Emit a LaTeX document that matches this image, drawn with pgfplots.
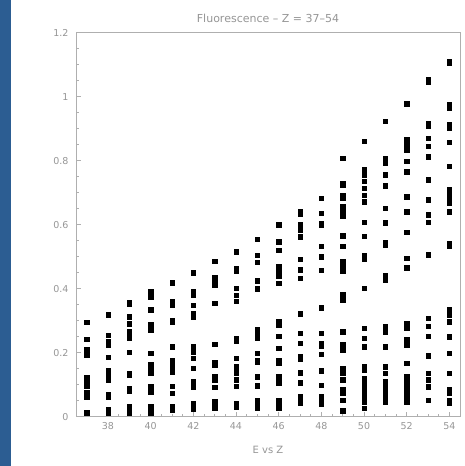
\documentclass[border=0pt]{standalone}
\usepackage{pgfplots}
\pgfplotsset{compat=1.18}
\usepackage{fontspec}
\setmainfont{DejaVu Sans}
\definecolor{bandblue}{RGB}{44,93,146}
\definecolor{axgray}{RGB}{175,175,175}
\definecolor{txtgray}{RGB}{150,150,150}
\begin{document}
\begin{tikzpicture}
\path[use as bounding box] (0,0) rectangle (464pt,466pt);
\fill[white] (0,0) rectangle (464pt,466pt);
\fill[bandblue] (0,0) rectangle (11pt,466pt);
\begin{axis}[
  at={(76pt,49.3pt)}, anchor=south west,
  scale only axis, width=384pt, height=384pt,
  xmin=36.5, xmax=54.5, ymin=0, ymax=1.2,
  xtick={38,40,...,54}, ytick={0,0.2,...,1.2},
  yticklabels={0,0.2,0.4,0.6,0.8,1,1.2},
  minor x tick num=3, minor y tick num=3,
  axis line style={axgray, line width=0.6pt},
  every tick/.style={axgray, line width=0.6pt},
  major tick length=5pt, minor tick length=3pt,
  tick align=inside,
  xtick pos=bottom, ytick pos=left,
  /pgf/number format/assume math mode=true,
  tick label style={font=\fontsize{9.5}{10}\selectfont, text=txtgray},
  yticklabel style={xshift=-4pt},
  xticklabel style={yshift=-2pt},
  title={Fluorescence -- Z = 37--54},
  title style={font=\fontsize{11}{12}\selectfont, text=txtgray, at={(0.5,1)}, anchor=base, yshift=4pt},
  xlabel={E vs Z},
  xlabel style={font=\fontsize{10}{12}\selectfont, text=txtgray, at={(0.5,0)}, anchor=base, yshift=-37pt},
  clip=false,
]
\addplot[only marks, mark=square*, mark size=2.2pt, black] table {
x y
37 0.295
37 0.242
37 0.209
37 0.200
37 0.193
37 0.123
37 0.115
37 0.104
37 0.096
37 0.075
37 0.063
37 0.014
37 0.012
38 0.321
38 0.318
38 0.255
38 0.235
38 0.224
38 0.186
38 0.146
38 0.134
38 0.123
38 0.115
38 0.071
38 0.063
38 0.023
38 0.011
39 0.357
39 0.353
39 0.313
39 0.290
39 0.266
39 0.256
39 0.245
39 0.201
39 0.136
39 0.130
39 0.089
39 0.081
39 0.033
39 0.026
39 0.016
39 0.011
40 0.391
40 0.375
40 0.336
40 0.334
40 0.287
40 0.271
40 0.198
40 0.162
40 0.146
40 0.138
40 0.094
40 0.078
40 0.031
40 0.021
40 0.011
41 0.419
41 0.360
41 0.349
41 0.301
41 0.297
41 0.219
41 0.177
41 0.165
41 0.151
41 0.141
41 0.096
41 0.073
41 0.031
41 0.025
41 0.021
42 0.450
42 0.391
42 0.381
42 0.349
42 0.323
42 0.313
42 0.219
42 0.203
42 0.183
42 0.151
42 0.110
42 0.094
42 0.042
42 0.031
42 0.023
43 0.485
43 0.435
43 0.422
43 0.412
43 0.355
43 0.227
43 0.169
43 0.162
43 0.125
43 0.115
43 0.092
43 0.047
43 0.037
43 0.026
44 0.516
44 0.464
44 0.454
44 0.402
44 0.379
44 0.360
44 0.245
44 0.238
44 0.183
44 0.156
44 0.138
44 0.115
44 0.096
44 0.042
44 0.029
45 0.555
45 0.505
45 0.482
45 0.425
45 0.400
45 0.273
45 0.261
45 0.245
45 0.198
45 0.177
45 0.170
45 0.125
45 0.097
45 0.052
45 0.042
45 0.026
46 0.600
46 0.547
46 0.521
46 0.469
46 0.455
46 0.441
46 0.417
46 0.297
46 0.287
46 0.252
46 0.214
46 0.177
46 0.167
46 0.125
46 0.106
46 0.052
46 0.040
46 0.026
47 0.643
47 0.633
47 0.600
47 0.584
47 0.563
47 0.492
47 0.459
47 0.433
47 0.322
47 0.261
47 0.230
47 0.188
47 0.180
47 0.138
47 0.106
47 0.063
47 0.052
47 0.042
48 0.683
48 0.636
48 0.605
48 0.598
48 0.532
48 0.500
48 0.457
48 0.340
48 0.261
48 0.230
48 0.221
48 0.196
48 0.144
48 0.099
48 0.063
48 0.052
48 0.040
49 0.808
49 0.730
49 0.725
49 0.693
49 0.683
49 0.657
49 0.647
49 0.628
49 0.566
49 0.533
49 0.485
49 0.469
49 0.454
49 0.381
49 0.365
49 0.266
49 0.227
49 0.209
49 0.151
49 0.136
49 0.115
49 0.084
49 0.073
49 0.052
49 0.019
50 0.860
50 0.772
50 0.756
50 0.735
50 0.714
50 0.693
50 0.672
50 0.608
50 0.564
50 0.505
50 0.493
50 0.402
50 0.276
50 0.245
50 0.219
50 0.156
50 0.146
50 0.120
50 0.110
50 0.094
50 0.078
50 0.063
50 0.047
50 0.026
51 0.923
51 0.808
51 0.793
51 0.756
51 0.722
51 0.652
51 0.606
51 0.545
51 0.536
51 0.441
51 0.428
51 0.282
51 0.266
51 0.219
51 0.156
51 0.136
51 0.110
51 0.094
51 0.078
51 0.063
51 0.047
52 0.978
52 0.866
52 0.850
52 0.834
52 0.798
52 0.766
52 0.688
52 0.641
52 0.577
52 0.495
52 0.466
52 0.292
52 0.276
52 0.240
52 0.224
52 0.167
52 0.125
52 0.110
52 0.094
52 0.078
52 0.063
52 0.047
53 1.053
53 1.045
53 0.918
53 0.907
53 0.871
53 0.845
53 0.813
53 0.740
53 0.678
53 0.631
53 0.608
53 0.506
53 0.308
53 0.282
53 0.252
53 0.190
53 0.136
53 0.115
53 0.094
53 0.052
54 1.110
54 1.105
54 0.975
54 0.965
54 0.912
54 0.902
54 0.857
54 0.782
54 0.709
54 0.693
54 0.678
54 0.667
54 0.641
54 0.542
54 0.532
54 0.334
54 0.318
54 0.297
54 0.250
54 0.198
54 0.136
54 0.084
54 0.073
54 0.052
54 0.042
};
\end{axis}
\end{tikzpicture}
\end{document}
